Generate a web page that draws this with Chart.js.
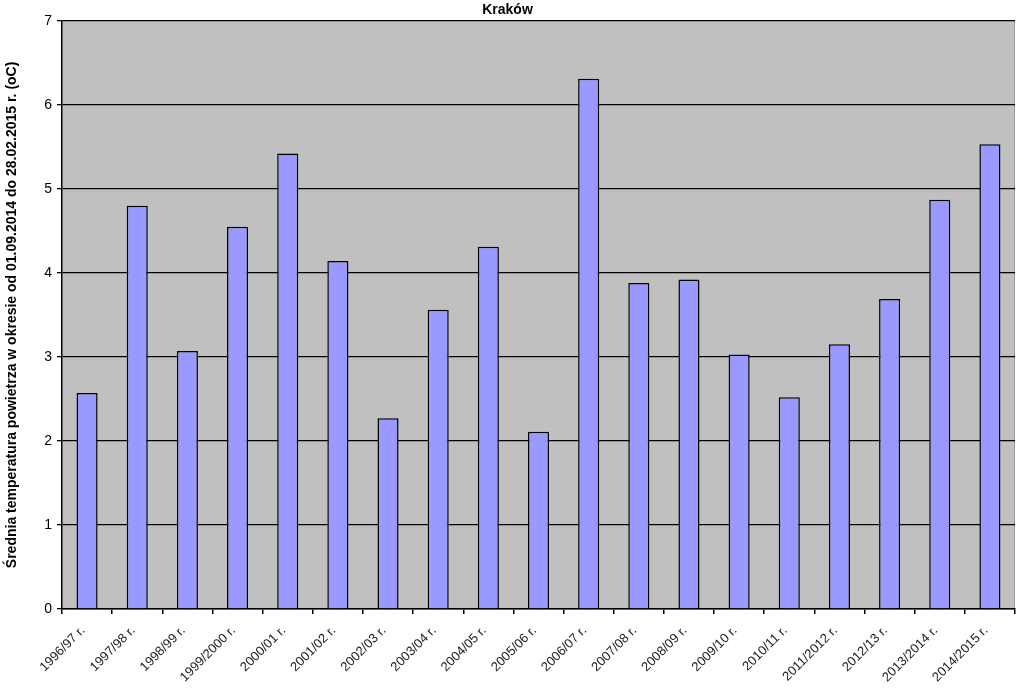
<!DOCTYPE html>
<html>
<head>
<meta charset="utf-8">
<script src="https://cdn.jsdelivr.net/npm/chart.js@4"></script>
<style>
  html, body { margin: 0; padding: 0; background: #fff; }
  #wrap { width: 1024px; height: 696px; }
</style>
</head>
<body>
<div id="wrap"><canvas id="chart"></canvas></div>
<script>
// Seasons and mean air temperature (Sep-Feb), Kraków
const seasons = [
    '1996/97 r.', '1997/98 r.', '1998/99 r.', '1999/2000 r.', '2000/01 r.',
    '2001/02 r.', '2002/03 r.', '2003/04 r.', '2004/05 r.', '2005/06 r.',
    '2006/07 r.', '2007/08 r.', '2008/09 r.', '2009/10 r.', '2010/11 r.',
    '2011/2012 r.', '2012/13 r.', '2013/2014 r.', '2014/2015 r.'
];
const meanTemp = [
    2.57, 4.80, 3.07, 4.55, 5.42,
    4.14, 2.27, 3.56, 4.31, 2.11,
    6.31, 3.88, 3.92, 3.03, 2.52,
    3.15, 3.69, 4.87, 5.53
];
const yTicks = [0, 1, 2, 3, 4, 5, 6, 7];

const chartTitle = 'Kraków';
const yTitle = 'Średnia temperatura powietrza w okresie od 01.09.2014 do 28.02.2015 r. (oC)';

// grey plot area like the original spreadsheet chart
const plotBackground = {
    id: 'plotBackground',
    beforeDraw(chart) {
        const {ctx, chartArea} = chart;
        ctx.save();
        ctx.fillStyle = '#c0c0c0';
        ctx.fillRect(chartArea.left, chartArea.top, chartArea.right - chartArea.left, chartArea.bottom - chartArea.top);
        ctx.strokeStyle = '#9a9a9a';
        ctx.lineWidth = 1;
        ctx.beginPath();
        ctx.moveTo(chartArea.right - 0.5, chartArea.top);
        ctx.lineTo(chartArea.right - 0.5, chartArea.bottom);
        ctx.stroke();
        ctx.restore();
    }
};

function initChart() {
    const ctx = document.getElementById('chart').getContext('2d');
    new Chart(ctx, {
        type: 'bar',
        data: {
            labels: seasons,
            datasets: [{
                data: meanTemp,
                backgroundColor: '#9999ff',
                borderColor: '#000000',
                borderWidth: 1.5,
                categoryPercentage: 1,
                barPercentage: 0.42
            }]
        },
        options: {
            responsive: true,
            maintainAspectRatio: false,
            animation: false,
            layout: { padding: { left: 0, right: 9, top: 0, bottom: 0 } },
            plugins: {
                legend: { display: false },
                tooltip: { enabled: false },
                title: {
                    display: true,
                    text: chartTitle,
                    color: '#000',
                    font: { family: 'Liberation Sans, Arial', size: 14, weight: 'bold' },
                    padding: { top: 2, bottom: 2 }
                }
            },
            scales: {
                x: {
                    offset: true,
                    grid: {
                        offset: true,
                        drawOnChartArea: false,
                        drawTicks: true,
                        tickLength: 5,
                        color: '#000',
                        lineWidth: 1.5
                    },
                    border: { color: '#000', width: 1.5 },
                    ticks: {
                        autoSkip: false,
                        maxRotation: 45,
                        minRotation: 45,
                        padding: 9,
                        labelOffset: -4,
                        color: '#222',
                        font: { family: 'Liberation Sans, Arial', size: 13 }
                    },
                    afterFit(scale) { scale.height = 87; }
                },
                y: {
                    min: 0,
                    max: 7,
                    afterBuildTicks(scale) { scale.ticks = yTicks.map(v => ({value: v})); },
                    grid: {
                        color: '#000',
                        lineWidth: 1.3,
                        drawTicks: true,
                        tickLength: 5
                    },
                    border: { color: '#000', width: 1.5 },
                    ticks: {
                        padding: 5,
                        color: '#000',
                        font: { family: 'Liberation Sans, Arial', size: 14 }
                    },
                    title: {
                        display: true,
                        text: yTitle,
                        color: '#000',
                        font: { family: 'Liberation Sans, Arial', size: 14, weight: 'bold' },
                        padding: { top: 4, bottom: 0 }
                    },
                    afterFit(scale) { scale.width = 62; }
                }
            }
        },
        plugins: [plotBackground]
    });
}

document.addEventListener('DOMContentLoaded', () => {
    initChart();
});
</script>
</body>
</html>
